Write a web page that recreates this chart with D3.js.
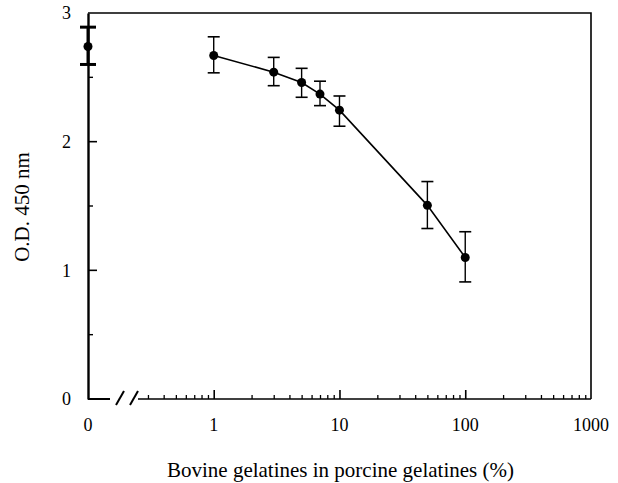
<!DOCTYPE html>
<html>
<head>
<meta charset="utf-8">
<style>
  body { margin: 0; background: #fff; }
  text { font-family: "Liberation Serif", "DejaVu Serif", serif; fill: #000; }
  .axis path, .axis line { stroke: #000; }
</style>
<script src="https://d3js.org/d3.v7.min.js"></script>
</head>
<body>
<script>
// data
var concentrations = [1, 3, 5, 7, 10, 50, 100];
var odMeans = [2.67, 2.54, 2.46, 2.37, 2.245, 1.505, 1.10];
var odUpper = [2.815, 2.655, 2.57, 2.47, 2.355, 1.69, 1.30];
var odLower = [2.535, 2.435, 2.345, 2.28, 2.12, 1.325, 0.91];
var zeroMean = 2.74, zeroUpper = 2.89, zeroLower = 2.60;
var xMajorTicks = [1, 10, 100];
var xTickLabels = ["1", "10", "100", "1000"];
var yMajorTicks = [0, 1, 2, 3];
var yMinorTicks = [0.5, 1.5, 2.5];

var W = 618, H = 483;
var margin = {top: 13, right: 27, bottom: 84, left: 88};
var width = W - margin.left - margin.right,
    height = H - margin.top - margin.bottom;

var svg = d3.select("body").append("svg")
    .attr("width", W).attr("height", H);
var g = svg.append("g")
    .attr("transform", "translate(" + margin.left + "," + margin.top + ")");

var x = d3.scaleLog().domain([0.25, 1000]).range([50, width]);
var y = d3.scaleLinear().domain([0, 3]).range([height, 0]);
var xZero = 0;

var xMinor = [];
[0.1, 1, 10, 100].forEach(function(d) {
  for (var k = 2; k <= 9; k++) {
    var v = d * k;
    if (v >= 0.3 && v < 1000) xMinor.push(v);
  }
});

// frame: top and right
g.append("path")
    .attr("d", "M0,0H" + width + "V" + height)
    .attr("fill", "none").attr("stroke", "#000").attr("stroke-width", 1.6);

// x axis segments (broken)
g.append("line")
    .attr("x1", 0).attr("x2", 22).attr("y1", height).attr("y2", height)
    .attr("stroke", "#000").attr("stroke-width", 2);
g.append("line")
    .attr("x1", x(0.25)).attr("x2", width).attr("y1", height).attr("y2", height)
    .attr("stroke", "#000").attr("stroke-width", 1.6);
[28, 42].forEach(function(bx) {
  g.append("line")
      .attr("x1", bx).attr("y1", height + 6).attr("x2", bx + 8).attr("y2", height - 8)
      .attr("stroke", "#000").attr("stroke-width", 2);
});

var gxMinor = g.append("g").attr("class", "axis")
    .attr("transform", "translate(0," + height + ")")
    .call(d3.axisBottom(x).tickValues(xMinor).tickSize(-4).tickFormat(""));
gxMinor.select(".domain").remove();
gxMinor.selectAll("line").attr("stroke-width", 1.3);

var gxMajor = g.append("g").attr("class", "axis")
    .attr("transform", "translate(0," + height + ")")
    .call(d3.axisBottom(x).tickValues(xMajorTicks).tickSize(-9).tickFormat(""));
gxMajor.select(".domain").remove();
gxMajor.selectAll("line").attr("stroke-width", 1.6);

// x tick labels
var xLabelVals = [1, 10, 100, 1000];
g.selectAll(".xlab").data(xLabelVals).enter().append("text")
    .attr("x", function(d) { return x(d); })
    .attr("y", height + 32)
    .attr("text-anchor", "middle")
    .style("font-size", "18px")
    .text(function(d, i) { return xTickLabels[i]; });
g.append("text")
    .attr("x", xZero).attr("y", height + 32)
    .attr("text-anchor", "middle").style("font-size", "18px")
    .text("0");

// y axis
var gy = g.append("g").attr("class", "axis")
    .call(d3.axisLeft(y).tickValues(yMajorTicks).tickSize(0).tickPadding(17)
      .tickFormat(d3.format("d")));
gy.select(".domain").attr("stroke-width", 2.4);
gy.selectAll("text").style("font-size", "18px").attr("font-family", null);

g.selectAll(".ymaj").data([1, 2]).enter().append("line")
    .attr("x1", 0).attr("x2", 9)
    .attr("y1", function(d) { return y(d); }).attr("y2", function(d) { return y(d); })
    .attr("stroke", "#000").attr("stroke-width", 1.6);
g.selectAll(".ymin").data(yMinorTicks).enter().append("line")
    .attr("x1", 0).attr("x2", 5)
    .attr("y1", function(d) { return y(d); }).attr("y2", function(d) { return y(d); })
    .attr("stroke", "#000").attr("stroke-width", 1.4);

// axis titles
g.append("text")
    .attr("transform", "translate(" + (29 - margin.left) + "," + (y(1.5) + 1) + ") rotate(-90)")
    .attr("text-anchor", "middle")
    .style("font-size", "21px")
    .text("O.D. 450 nm");
g.append("text")
    .attr("x", x(10) + 1).attr("y", height + 78)
    .attr("text-anchor", "middle")
    .style("font-size", "21px")
    .text("Bovine gelatines in porcine gelatines (%)");

// line
var pts = concentrations.map(function(c, i) {
  return {c: c, m: odMeans[i], hi: odUpper[i], lo: odLower[i]};
});
g.append("path")
    .datum(pts)
    .attr("fill", "none").attr("stroke", "#000").attr("stroke-width", 1.6)
    .attr("d", d3.line().x(function(d) { return x(d.c); }).y(function(d) { return y(d.m); }));

// error bars
var eb = g.selectAll(".eb").data(pts).enter().append("g");
eb.append("line")
    .attr("x1", function(d) { return x(d.c); }).attr("x2", function(d) { return x(d.c); })
    .attr("y1", function(d) { return y(d.hi); }).attr("y2", function(d) { return y(d.lo); })
    .attr("stroke", "#000").attr("stroke-width", 1.4);
eb.append("line")
    .attr("x1", function(d) { return x(d.c) - 6; }).attr("x2", function(d) { return x(d.c) + 6; })
    .attr("y1", function(d) { return y(d.hi); }).attr("y2", function(d) { return y(d.hi); })
    .attr("stroke", "#000").attr("stroke-width", 1.6);
eb.append("line")
    .attr("x1", function(d) { return x(d.c) - 6; }).attr("x2", function(d) { return x(d.c) + 6; })
    .attr("y1", function(d) { return y(d.lo); }).attr("y2", function(d) { return y(d.lo); })
    .attr("stroke", "#000").attr("stroke-width", 1.6);
eb.append("circle")
    .attr("cx", function(d) { return x(d.c); }).attr("cy", function(d) { return y(d.m); })
    .attr("r", 4.5).attr("fill", "#000");

// zero point (0 %)
g.append("line")
    .attr("x1", xZero).attr("x2", xZero).attr("y1", y(zeroUpper)).attr("y2", y(zeroLower))
    .attr("stroke", "#000").attr("stroke-width", 3);
[zeroUpper, zeroLower].forEach(function(v) {
  g.append("line")
      .attr("x1", xZero - 8).attr("x2", xZero + 8).attr("y1", y(v)).attr("y2", y(v))
      .attr("stroke", "#000").attr("stroke-width", 3);
});
g.append("circle")
    .attr("cx", xZero).attr("cy", y(zeroMean)).attr("r", 4.5).attr("fill", "#000");
</script>
</body>
</html>
